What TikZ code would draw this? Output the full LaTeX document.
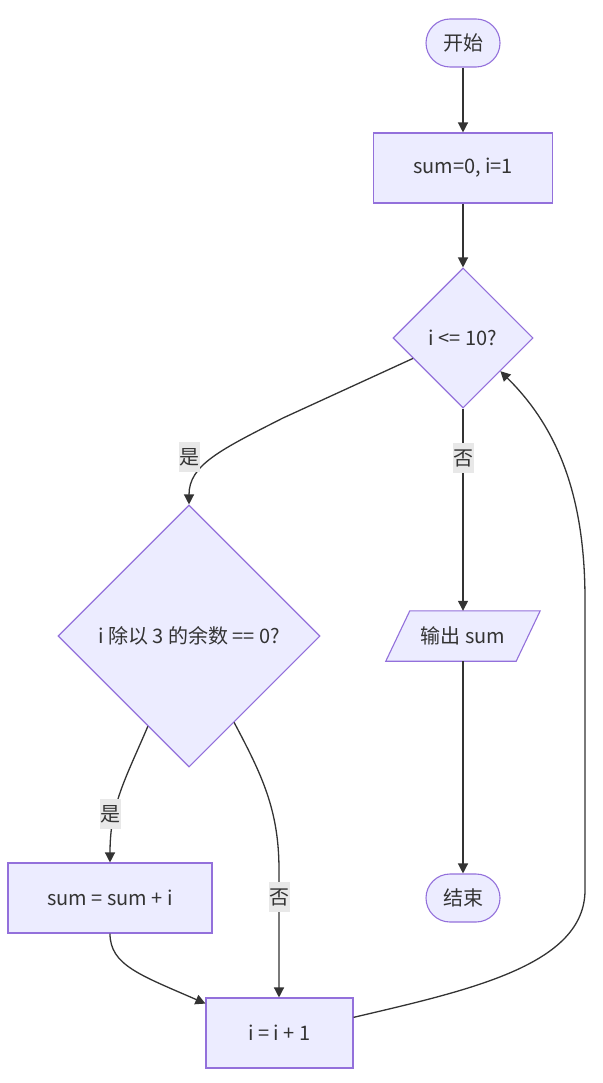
\documentclass[tikz,border=0pt]{standalone}
\usepackage{fontspec}
\setmainfont{Noto Sans CJK SC}
\usetikzlibrary{shapes.geometric,arrows.meta,calc,backgrounds}
\definecolor{nodefill}{HTML}{ECECFF}
\definecolor{nodeline}{HTML}{9370DB}
\definecolor{edgecol}{HTML}{333333}
\definecolor{lblfill}{HTML}{E8E8E8}
\definecolor{txtcol}{HTML}{333333}
\begin{document}
\begin{tikzpicture}[x=1pt,y=-1pt,
  every node/.style={font=\fontsize{20}{24}\selectfont, text=txtcol},
  boxshape/.style={draw=nodeline, fill=nodefill, line width=1.1pt},
  procbox/.style={boxshape, rectangle, inner sep=0pt, minimum height=70pt},
  termbox/.style={boxshape, rectangle, rounded corners=24pt, inner sep=0pt, minimum width=74pt, minimum height=48pt},
  decbox/.style={boxshape, diamond, aspect=1, inner sep=0pt},
  iobox/.style={rectangle, inner sep=0pt, minimum width=130pt, minimum height=50pt},
  elabel/.style={fill=lblfill, inner sep=0pt, minimum width=21pt, minimum height=30pt},
  flow/.style={draw=edgecol, line width=1.3pt, -{Triangle[length=10pt,width=10pt]}}
]
\useasboundingbox (0,0) rectangle (602,1083);

% nodes
\node[termbox] (start) at (463,43) {开始};
\node[procbox, minimum width=179pt] (init) at (463,168) {sum=0, i=1};
\node[decbox, minimum width=140pt, minimum height=140pt] (dec1) at (463,338) {i <= 10?};
\node[decbox, minimum width=262pt, minimum height=262pt, label={[text=txtcol]center:i 除以 3 的余数 == 0?}] (dec2) at (189,636) {};
\node[iobox] (out) at (463,636) {输出 sum};
\begin{scope}[on background layer]
  \draw[boxshape] ([xshift=12pt]out.north west) -- ([xshift=12pt]out.north east)
    -- ([xshift=-12pt]out.south east) -- ([xshift=-12pt]out.south west) -- cycle;
\end{scope}
\node[termbox] (stop) at (463,898) {结束};
\node[procbox, minimum width=204pt] (sumi) at (110,898) {sum = sum + i};
\node[procbox, minimum width=147pt] (inc) at (279.5,1033) {i = i + 1};

% connectors
\draw[flow] (start) -- (init);
\draw[flow] (init) -- (dec1);

\coordinate (d1sw) at ($(dec1.west)!0.29!(dec1.south)$);
\draw[flow] (d1sw) -- (283,418) .. controls (220,450) and (189,465) .. (dec2.north);
\node[elabel] (lyes1) at (189,457) {是};

\draw[flow] (dec1) -- (out.north);
\node[elabel] (lno1) at (463,458) {否};

\draw[flow] (out.south) -- (stop);

\coordinate (d2sw) at ($(dec2.west)!0.687!(dec2.south)$);
\draw[flow] (d2sw) .. controls (125,780) and (110,805) .. (sumi.north);
\node[elabel] (lyes2) at (110,814) {是};

\coordinate (d2se) at ($(dec2.south)!0.343!(dec2.east)$);
\draw[flow] (d2se) .. controls (262,775) and (279,810) .. (279,870) -- (inc.north -| 279,0);
\node[elabel] (lno2) at (279,897) {否};

\coordinate (incin) at ($(inc.north west)!0.086!(inc.south west)$);
\draw[flow] (sumi.south) .. controls (110,965) and (140,975) .. (incin);

\coordinate (incout) at ($(inc.north east)!0.28!(inc.south east)$);
\coordinate (d1se) at ($(dec1.south)!0.53!(dec1.east)$);
\draw[flow] (incout) .. controls (470,990) and (585,965) .. (585,890)
  -- (585,600) .. controls (585,500) and (560,430) .. (d1se);
\end{tikzpicture}
\end{document}
